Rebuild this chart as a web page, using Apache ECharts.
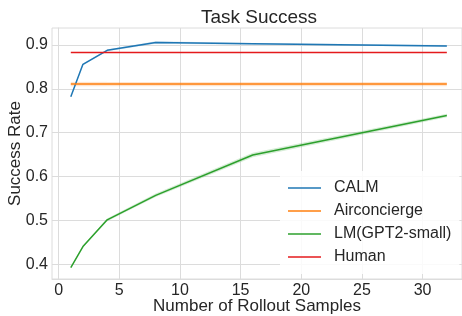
<!DOCTYPE html>
<html>
<head>
<meta charset="utf-8">
<script src="https://cdn.jsdelivr.net/npm/echarts@6/dist/echarts.min.js"></script>
<style>
  html, body { margin: 0; padding: 0; background: #fff; }
  #chart { width: 462px; height: 316px; }
</style>
</head>
<body>
<div id="chart"></div>
<script>
// rollout sample counts
const samples = [1, 2, 4, 8, 16, 32]

// CALM
const calmMean = [0.782, 0.856, 0.888, 0.906, 0.903, 0.898]
const calmLow = [0.781, 0.854, 0.886, 0.903, 0.901, 0.896]
const calmHigh = [0.783, 0.858, 0.890, 0.909, 0.905, 0.900]

// Airconcierge (flat)
const airMean = [0.811, 0.811, 0.811, 0.811, 0.811, 0.811]
const airLow = [0.806, 0.806, 0.806, 0.806, 0.806, 0.806]
const airHigh = [0.816, 0.816, 0.816, 0.816, 0.816, 0.816]

// LM(GPT2-small)
const lmMean = [0.392, 0.440, 0.501, 0.557, 0.649, 0.739]
const lmLow = [0.391, 0.438, 0.498, 0.553, 0.644, 0.735]
const lmHigh = [0.393, 0.442, 0.504, 0.561, 0.654, 0.743]

// Human (flat)
const humanMean = [0.883, 0.883, 0.883, 0.883, 0.883, 0.883]

const xTicks = [0, 5, 10, 15, 20, 25, 30]
const yTicks = [0.4, 0.5, 0.6, 0.7, 0.8, 0.9]

const seriesNames = ['CALM', 'Airconcierge', 'LM(GPT2-small)', 'Human']
const seriesColors = ['#1f77b4', '#ff7f0e', '#2ca02c', '#e41a1c']

const chart = echarts.init(document.getElementById('chart'))

const pairs = (ys) => samples.map((x, i) => [x, ys[i]])

// 置信区间带：每段一个四边形
function band(name, low, high, color) {
  const segs = []
  for (let i = 0; i < samples.length - 1; i++) {
    segs.push([samples[i], low[i], high[i], samples[i + 1], low[i + 1], high[i + 1]])
  }
  return {
    name: name + '-band',
    type: 'custom',
    data: segs,
    silent: true,
    z: 1,
    renderItem: function (params, api) {
      const a = api.coord([api.value(0), api.value(1)])
      const b = api.coord([api.value(3), api.value(4)])
      const c = api.coord([api.value(3), api.value(5)])
      const d = api.coord([api.value(0), api.value(2)])
      return {
        type: 'polygon',
        shape: { points: [a, b, c, d] },
        style: { fill: color, opacity: 0.2 }
      }
    }
  }
}

function mainLine(name, ys, color) {
  return {
    name: name,
    type: 'line',
    data: pairs(ys),
    symbol: 'none',
    lineStyle: { color: color, width: 1.5 },
    itemStyle: { color: color },
    z: 3
  }
}

const axisText = { color: '#262626', fontFamily: 'Liberation Sans', fontSize: 16 }

const option = {
  backgroundColor: '#fff',
  animation: false,
  title: {
    text: 'Task Success',
    left: 254,
    textAlign: 'center',
    top: 3,
    textStyle: { color: '#262626', fontFamily: 'Liberation Sans', fontSize: 19, fontWeight: 'normal' }
  },
  grid: {
    left: 52,
    right: 0,
    top: 28,
    bottom: 37,
    outerBoundsMode: 'none',
    show: true,
    borderColor: '#dcdcdc',
    borderWidth: 1
  },
  legend: {
    data: seriesNames,
    orient: 'vertical',
    left: 280,
    top: 171,
    padding: 8,
    backgroundColor: 'rgba(255,255,255,0.85)',
    icon: 'rect',
    itemWidth: 33,
    itemHeight: 1.5,
    itemGap: 5,
    textStyle: {
      color: '#262626',
      fontFamily: 'Liberation Sans',
      fontSize: 16,
      lineHeight: 18,
      padding: [0, 0, 0, 8]
    }
  },
  xAxis: {
    type: 'value',
    min: -0.55,
    max: 33.25,
    name: 'Number of Rollout Samples',
    nameLocation: 'middle',
    nameGap: 19,
    nameMoveOverlap: false,
    nameTextStyle: { color: '#262626', fontFamily: 'Liberation Sans', fontSize: 17 },
    axisLine: { show: true, lineStyle: { color: '#dcdcdc', width: 1 } },
    axisTick: { show: false, customValues: xTicks },
    axisLabel: Object.assign({ customValues: xTicks, margin: 4 }, axisText),
    splitLine: { show: true, lineStyle: { color: '#dcdcdc', width: 1 } }
  },
  yAxis: {
    type: 'value',
    min: 0.366,
    max: 0.939,
    name: 'Success Rate',
    nameLocation: 'middle',
    nameGap: 28,
    nameMoveOverlap: false,
    nameTextStyle: { color: '#262626', fontFamily: 'Liberation Sans', fontSize: 17 },
    axisLine: { show: true, lineStyle: { color: '#dcdcdc', width: 1 } },
    axisTick: { show: false, customValues: yTicks },
    axisLabel: Object.assign({ customValues: yTicks, margin: 4, formatter: (v) => v.toFixed(1) }, axisText),
    splitLine: { show: true, lineStyle: { color: '#dcdcdc', width: 1 } }
  },
  series: [
    band('CALM', calmLow, calmHigh, seriesColors[0]),
    band('Airconcierge', airLow, airHigh, seriesColors[1]),
    band('LM(GPT2-small)', lmLow, lmHigh, seriesColors[2]),
    mainLine('CALM', calmMean, seriesColors[0]),
    mainLine('Airconcierge', airMean, seriesColors[1]),
    mainLine('LM(GPT2-small)', lmMean, seriesColors[2]),
    mainLine('Human', humanMean, seriesColors[3])
  ]
}

chart.setOption(option)
</script>
</body>
</html>
